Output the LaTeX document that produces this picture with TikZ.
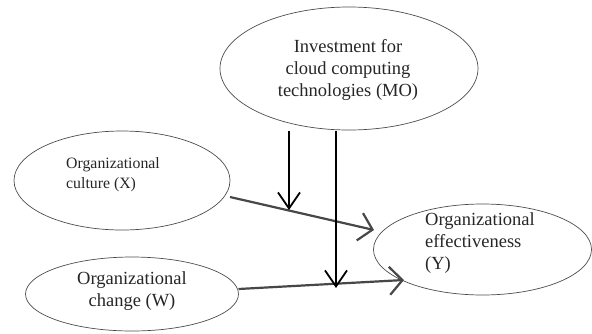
\documentclass[tikz,border=0pt]{standalone}
\usepackage{fontspec}
\setmainfont{Liberation Serif}
\usetikzlibrary{shapes.geometric,arrows.meta}
\begin{document}
\begin{tikzpicture}[x=1pt,y=-1pt,
  oval/.style={draw=black!70, line width=0.7pt, ellipse, inner sep=0pt},
  bigtxt/.style={text=black!85, inner sep=0pt, font=\fontsize{18.5}{22}\selectfont},
  smalltxt/.style={text=black!85, inner sep=0pt, font=\fontsize{15.8}{20}\selectfont},
  darr/.style={line width=1.8pt, black, -{Straight Barb[length=16pt,width=22pt]}},
  garr/.style={line width=2.2pt, black!72, -{Straight Barb[length=13pt,width=28pt]}}]
\useasboundingbox (0,0) rectangle (592,333);
\node[oval, minimum width=258pt, minimum height=123pt] (MO) at (349,68.5) {};
\node[oval, minimum width=216pt, minimum height=99pt] (X) at (122,180.5) {};
\node[oval, minimum width=213pt, minimum height=74pt] (W) at (132,294) {};
\node[oval, minimum width=218pt, minimum height=91pt] (Y) at (482.5,249.5) {};
\node[bigtxt, align=center] (MOt) at (348,70) {Investment for\\cloud computing\\technologies (MO)};
\node[smalltxt, align=left, anchor=west] (Xt) at (66,175) {Organizational\\culture (X)};
\node[bigtxt, align=center] (Wt) at (132,291) {Organizational\\change (W)};
\node[bigtxt, align=left, anchor=west] (Yt) at (425,243) {Organizational\\effectiveness\\(Y)};
\coordinate (xs) at (230,197);
\coordinate (ye1) at (374,230);
\coordinate (ws) at (238.5,289);
\coordinate (ye2) at (404,280);
\coordinate (m1s) at (289,131);
\coordinate (m1e) at (289,210);
\coordinate (m2s) at (336,131);
\coordinate (m2e) at (336,288);
\draw[garr] (xs) -- (ye1);
\draw[garr] (ws) -- (ye2);
\draw[darr] (m1s) -- (m1e);
\draw[darr] (m2s) -- (m2e);
\end{tikzpicture}
\end{document}
